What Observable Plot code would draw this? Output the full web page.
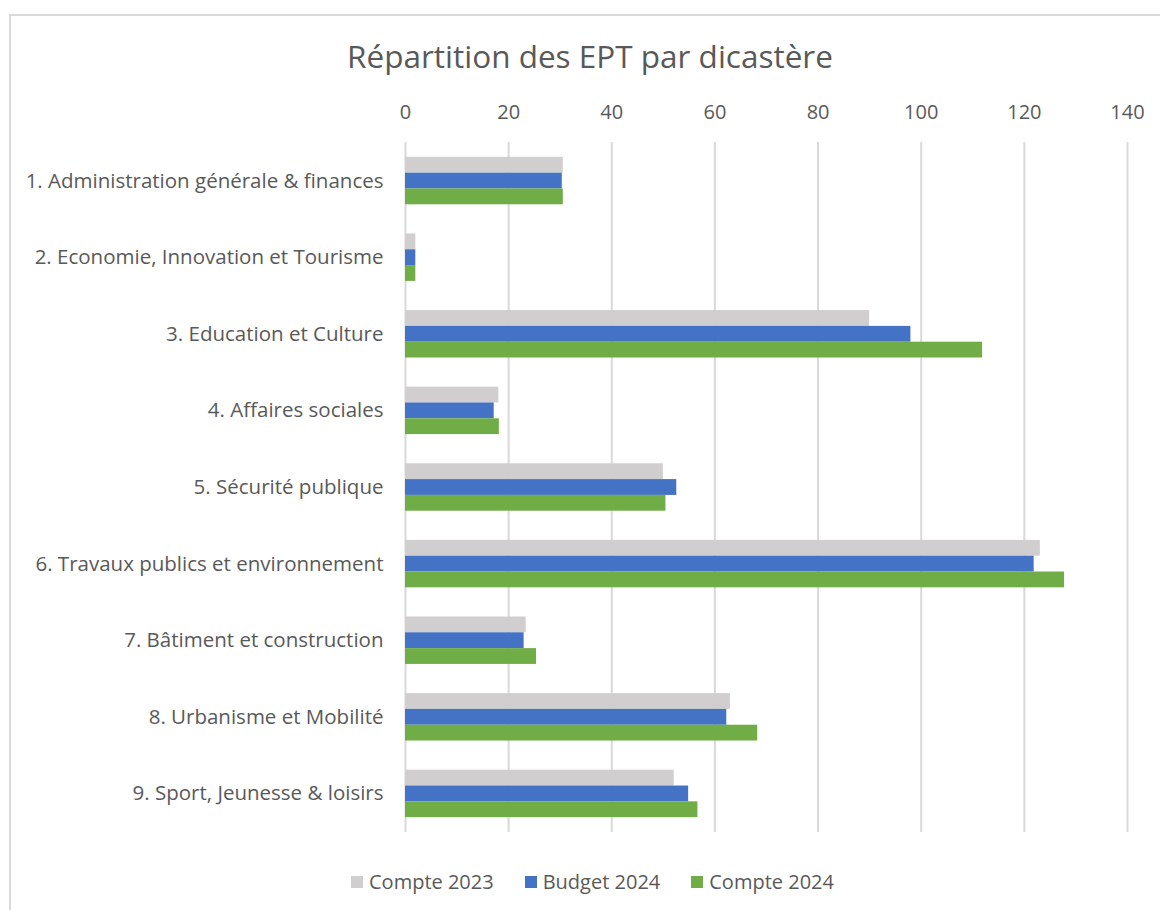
<!DOCTYPE html>
<html>
<head>
<meta charset="utf-8">
<script src="https://cdn.jsdelivr.net/npm/d3@7"></script>
<script src="https://cdn.jsdelivr.net/npm/@observablehq/plot@0.6"></script>
<style>
  html, body { margin: 0; padding: 0; background: #fff; width: 1160px; height: 910px; overflow: hidden; }
  body { position: relative; font-family: "Open Sans", sans-serif; color: #595959; }
  #frame { position: absolute; left: 9px; top: 14px; width: 1200px; height: 1000px; border: 2px solid #d9d9d9; box-sizing: border-box; }
  #title { position: absolute; left: 0; top: 36px; width: 1180px; text-align: center; font-size: 31.5px; line-height: 40px; color: #595959; }
  #chart { position: absolute; left: 0; top: 0; }
  #legend { position: absolute; left: 351px; top: 869px; display: flex; align-items: center; font-size: 20px; line-height: 26px; color: #595959; }
  .item { display: flex; align-items: center; margin-right: 31px; }
  .sw { width: 12px; height: 12px; margin-right: 6px; }
</style>
</head>
<body>
<div id="frame"></div>
<div id="chart"></div>
<div id="title">Répartition des EPT par dicastère</div>
<div id="legend"></div>
<script>
const categories = [
  "1. Administration générale & finances",
  "2. Economie, Innovation et Tourisme",
  "3. Education et Culture",
  "4. Affaires sociales",
  "5. Sécurité publique",
  "6. Travaux publics et environnement",
  "7. Bâtiment et construction",
  "8. Urbanisme et Mobilité",
  "9. Sport, Jeunesse & loisirs"
];
const series = ["Compte 2023", "Budget 2024", "Compte 2024"];
const compte2023 = [30.6, 2, 90, 18.1, 50, 123.1, 23.4, 63, 52.1];
const budget2024 = [30.4, 2, 98, 17.2, 52.6, 121.9, 23, 62.3, 54.9];
const compte2024 = [30.6, 2, 111.9, 18.2, 50.5, 127.8, 25.4, 68.3, 56.7];
const xTicks = [0, 20, 40, 60, 80, 100, 120, 140];
const colors = ["#D0CECE", "#4472C4", "#70AD47"];

const values = [compte2023, budget2024, compte2024];
const rows = [];
series.forEach((s, i) => categories.forEach((c, j) => rows.push({category: c, series: s, value: values[i][j]})));

const W = 1160, H = 910, mTop = 142, mBottom = 78;
const pIn = 0.381, pOut = 0.194;
const step = (H - mTop - mBottom) / (categories.length - pIn + 2 * pOut);
const band = step * (1 - pIn);
const third = band / 3;

const chart = Plot.plot({
  width: W,
  height: H,
  marginLeft: 405,
  marginRight: 33,
  marginTop: mTop,
  marginBottom: mBottom,
  style: {fontFamily: "Open Sans", fontSize: "20px", color: "#595959", background: "transparent"},
  x: {domain: [0, 140], axis: null},
  y: {domain: categories, paddingInner: pIn, paddingOuter: pOut, round: false, axis: null},
  color: {domain: series, range: colors},
  marks: [
    Plot.gridX(xTicks, {stroke: "#d9d9d9", strokeOpacity: 1, strokeWidth: 2}),
    Plot.axisX(xTicks, {anchor: "top", tickSize: 0, tickPadding: 24, label: null, fontSize: 20}),
    Plot.axisY({anchor: "left", tickSize: 0, tickPadding: 22, label: null, fontSize: 20.5}),
    ...series.map((s, i) => Plot.barX(rows.filter(d => d.series === s), {
      x: "value", y: "category", fill: "series",
      insetTop: i * third, insetBottom: (2 - i) * third
    }))
  ]
});
document.getElementById("chart").appendChild(chart);

const legend = document.getElementById("legend");
series.forEach((s, i) => {
  const item = document.createElement("div");
  item.className = "item";
  const sw = document.createElement("div");
  sw.className = "sw";
  sw.style.background = colors[i];
  const t = document.createElement("span");
  t.textContent = s;
  item.appendChild(sw);
  item.appendChild(t);
  legend.appendChild(item);
});
</script>
</body>
</html>
